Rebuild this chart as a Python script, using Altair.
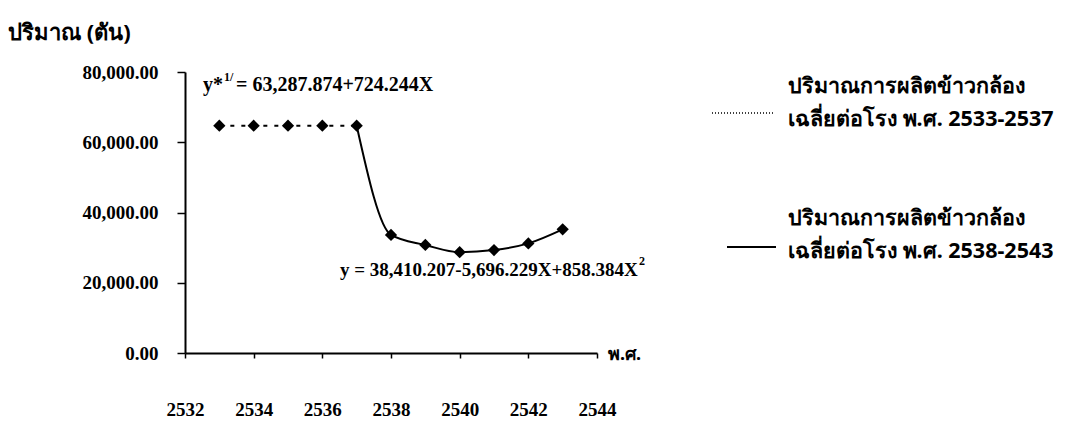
import altair as alt
import pandas as pd

# ---- data ----
years_a = [2533, 2534, 2535, 2536, 2537]
values_a = [64700, 64700, 64700, 64700, 64700]
years_b = [2537, 2538, 2539, 2540, 2541, 2542, 2543]
values_b = [64700, 33600, 30750, 28700, 29300, 31200, 35200]
x_ticks = [2532, 2534, 2536, 2538, 2540, 2542, 2544]
y_ticks = [0, 20000, 40000, 60000, 80000]

legend_a = ["ปริมาณการผลิตข้าวกล้อง", "เฉลี่ยต่อโรง พ.ศ. 2533-2537"]
legend_b = ["ปริมาณการผลิตข้าวกล้อง", "เฉลี่ยต่อโรง พ.ศ. 2538-2543"]
y_title = "ปริมาณ (ตัน)"
x_title = "พ.ศ."
eq_a = ["y*", "1/", "= 63,287.874+724.244X"]
eq_b = ["y = 38,410.207-5,696.229X+858.384X", "2"]

FONT = "Liberation Serif"
THAI = "Noto Sans"

df_a = pd.DataFrame({"year": years_a, "value": values_a})
df_b = pd.DataFrame({"year": years_b, "value": values_b})
pts = pd.DataFrame({"year": years_a + years_b[1:], "value": values_a + values_b[1:]})

W, H = 412, 281

xs = alt.Scale(domain=[2532, 2544], nice=False, zero=False)
ys = alt.Scale(domain=[0, 80000], nice=False)

x_axis = alt.Axis(values=x_ticks, format="d", title=None, grid=False,
                  domainColor="black", domainWidth=2, tickColor="black",
                  tickWidth=1.5, tickSize=5, labelPadding=42,
                  labelFlush=False, labelOverlap=False,
                  labelFont=FONT, labelFontSize=19, labelColor="black",
                  labelFontWeight="bold")
y_axis = alt.Axis(values=y_ticks, format=",.2f", title=None, grid=False,
                  domainColor="black", domainWidth=2, tickColor="black",
                  tickWidth=1.5, tickSize=8, labelPadding=19,
                  labelFlush=False, labelOverlap=False,
                  labelFont=FONT, labelFontSize=19, labelColor="black",
                  labelFontWeight="bold")

line_a = alt.Chart(df_a).mark_line(color="black", strokeWidth=2, strokeDash=[4, 7]).encode(
    x=alt.X("year:Q", scale=xs, axis=x_axis),
    y=alt.Y("value:Q", scale=ys, axis=y_axis),
)
line_b = alt.Chart(df_b).mark_line(color="black", strokeWidth=2, interpolate="monotone").encode(
    x=alt.X("year:Q", scale=xs),
    y=alt.Y("value:Q", scale=ys),
)
points = alt.Chart(pts).mark_point(shape="diamond", filled=True, color="black",
                                   size=150, opacity=1).encode(
    x=alt.X("year:Q", scale=xs),
    y=alt.Y("value:Q", scale=ys),
)

one = pd.DataFrame({"k": [0]})


def label(text, x, y, size=19, align="left", font=FONT):
    return alt.Chart(one).mark_text(text=text, align=align, baseline="middle",
                                    font=font, fontSize=size, fontWeight="bold",
                                    color="black").encode(
        x=alt.value(x), y=alt.value(y))


def seg(x1, x2, y, dash=None, width=2):
    kw = dict(color="black", strokeWidth=width)
    if dash:
        kw["strokeDash"] = dash
    return alt.Chart(one).mark_rule(**kw).encode(
        x=alt.value(x1), x2=alt.value(x2), y=alt.value(y))


layers = [
    line_a, line_b, points,
    label(y_title, -177, -39, size=22, font=THAI),
    label(x_title, 423, 283, size=18, font=THAI),
    label(eq_a[0], 18, 13, size=20),
    label(eq_a[1], 39, 5, size=12),
    label(eq_a[2], 51, 13, size=20),
    label(eq_b[0], 155, 198),
    label(eq_b[1], 454, 189, size=12),
    seg(527, 588, 41, dash=[1, 2], width=1.5),
    seg(542, 591, 175, width=2),
    label(legend_a[0], 603, 15, size=21.5, font=THAI),
    label(legend_a[1], 603, 48, size=21.5, font=THAI),
    label(legend_b[0], 603, 147, size=21.5, font=THAI),
    label(legend_b[1], 603, 180, size=21.5, font=THAI),
]

chart = alt.layer(*layers).properties(
    width=W, height=H,
    autosize=alt.AutoSizeParams(type="none"),
    padding={"left": 177, "top": 64, "right": 469, "bottom": 68},
    background="white",
).configure_view(stroke=None)

chart.save("out.html", embed_options={"renderer": "svg", "actions": False})
